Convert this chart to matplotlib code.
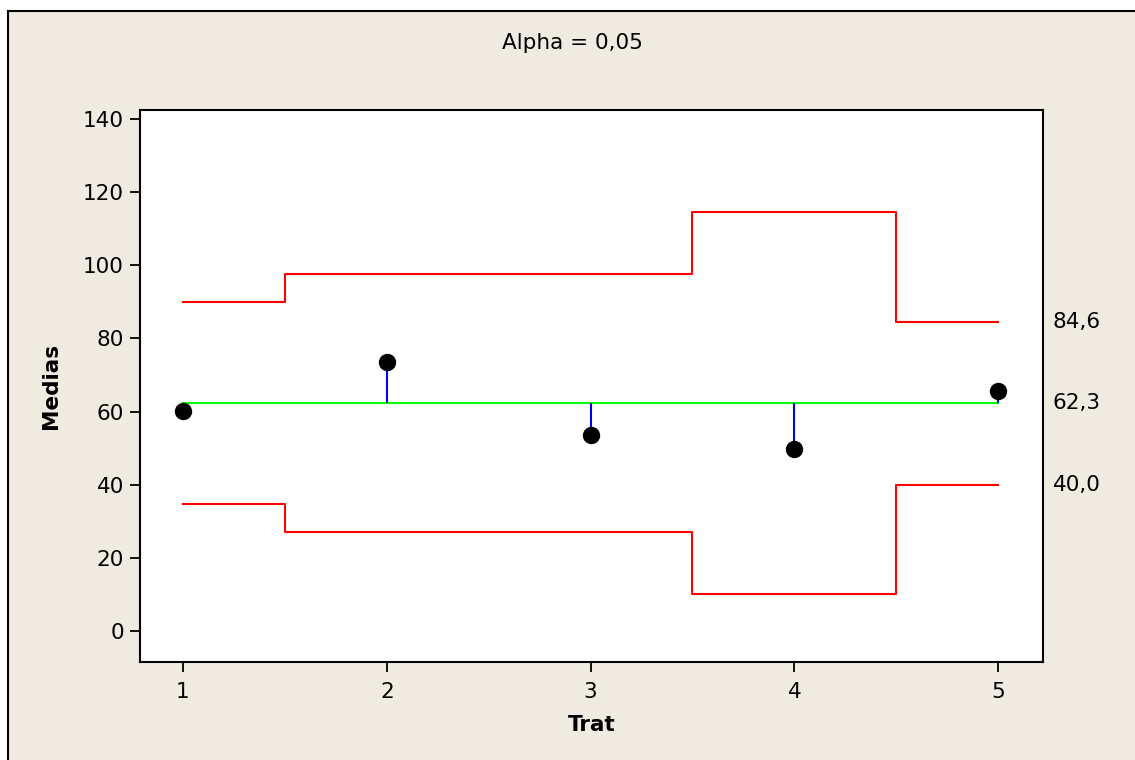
import numpy as np
import matplotlib.pyplot as plt
from matplotlib.patches import Rectangle

trat = [1, 2, 3, 4, 5]
medias = [60.2, 73.6, 53.7, 49.9, 65.7]
upper = [90.0, 97.6, 97.6, 114.6, 84.6]
lower = [34.6, 27.0, 27.0, 10.0, 40.0]
center = 62.3
right_labels = ["84,6", "62,3", "40,0"]
right_values = [84.6, 62.3, 40.0]

W, H = 1135, 760
bg = "#efebe0"
fs = 15.5

fig = plt.figure(figsize=(W / 100, H / 100), dpi=100)
fig.patch.set_facecolor("white")
fig.patches.append(Rectangle((8 / W, -0.05), 1.2, (H - 11) / H + 0.05,
                             transform=fig.transFigure, facecolor=bg,
                             edgecolor="black", linewidth=1.5, zorder=-10))

ax = fig.add_axes([140 / W, (H - 662) / H, 903 / W, 552 / H])
ax.set_facecolor("white")

ax.step(trat, upper, where="mid", color="#ff0000", lw=1.5)
ax.step(trat, lower, where="mid", color="#ff0000", lw=1.5)
ax.plot([trat[0], trat[-1]], [center, center], color="#00ff00", lw=1.5)
ax.vlines(trat, center, medias, color="#0000ff", lw=1.5)
ax.plot(trat, medias, "o", color="black", ms=11.5, zorder=5)

for lab, v in zip(right_labels, right_values):
    ax.text(1.0 + 10 / 903, v, lab, transform=ax.get_yaxis_transform(),
            ha="left", va="center", fontsize=fs)

ax.set_xlim(0.789, 5.22)
ax.set_ylim(-8.5, 142.5)
ax.set_xticks(trat)
ax.set_yticks(np.arange(0, 141, 20))
ax.tick_params(direction="out", length=7.5, width=1.3, labelsize=fs)
ax.tick_params(axis="x", pad=7)
ax.tick_params(axis="y", pad=4)
for s in ax.spines.values():
    s.set_linewidth(1.5)

ax.set_xlabel("Trat", fontsize=fs, fontweight="bold", labelpad=9)
ax.set_ylabel("Medias", fontsize=fs, fontweight="bold", labelpad=16)
fig.text(572 / W, 1 - 43 / H, "Alpha = 0,05", ha="center", va="center", fontsize=fs)

fig.savefig("out.png", dpi=100)
